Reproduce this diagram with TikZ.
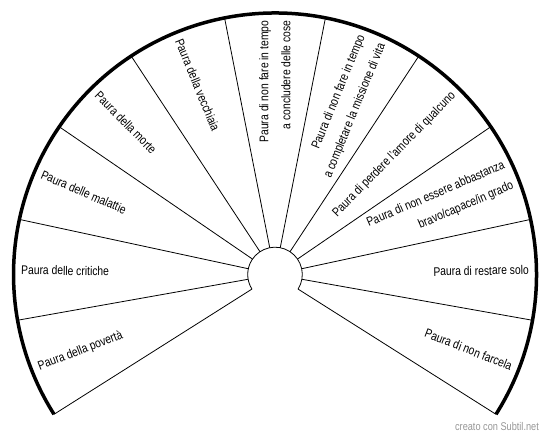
\documentclass[tikz,border=0pt]{standalone}
\usepackage{fontspec}
\setmainfont{Liberation Sans}
\usetikzlibrary{calc}
\definecolor{wmgray}{RGB}{150,150,150}
\begin{document}
\begin{tikzpicture}[x=1pt,y=1pt,
  spoke/.style={line width=0.8pt,black},
  rim/.style={line width=3.5pt,line cap=butt,black},
  lab/.style={inner sep=0pt,font=\fontsize{12.6}{22}\selectfont},
  rl/.style={lab,anchor=east,align=right,rotate=#1,xscale=0.82,transform shape},
  ll/.style={lab,anchor=west,align=left,rotate=#1,xscale=0.82,transform shape},
  wmark/.style={anchor=base east,inner sep=0pt,font=\fontsize{11.2}{13}\selectfont,text=wmgray,xscale=0.82,transform shape}]
\useasboundingbox (0,0) rectangle (550,438);
\coordinate (C) at (275,163.5);
\def\Ro{261.5}
\def\Ri{27.3}
\def\St{22.24}
\def\Az{-32.32}
\def\Rt{254}
% rims
\draw[rim] ($(C)+(\Az:\Ro)$) arc[start angle=\Az, end angle=212.32, radius=\Ro];
\draw[spoke] ($(C)+(\Az:\Ri)$) arc[start angle=\Az, end angle=212.32, radius=\Ri];
% spokes
\foreach \k in {0,...,11}{
  \pgfmathsetmacro\a{\Az+\k*\St}
  \draw[spoke] ($(C)+(\a:\Ri)$) -- ($(C)+(\a:\Ro)$);
}
% labels, right half
\node[rl=-21.2] (l0) at ($(C)+(-21.2:\Rt)$) {\strut Paura di non farcela};
\node[rl=1.04] (l1) at ($(C)+(1.04:\Rt)$) {\strut Paura di restare solo};
\node[rl=23.28] (l2) at ($(C)+(23.28:\Rt)$) {\strut Paura di non essere abbastanza\\\strut bravo/capace/in grado};
\node[rl=45.52] (l3) at ($(C)+(45.52:\Rt)$) {\strut Paura di perdere l'amore di qualcuno};
\node[rl=67.76] (l4) at ($(C)+(67.76:\Rt)$) {\strut Paura di non fare in tempo\\\strut a completare la missione di vita};
\node[rl=90] (l5) at ($(C)+(90:\Rt)$) {\strut Paura di non fare in tempo\\\strut a concludere delle cose};
% labels, left half
\node[ll=-67.76] (l6) at ($(C)+(112.24:\Rt)$) {\strut Paura della vecchiaia};
\node[ll=-45.52] (l7) at ($(C)+(134.48:\Rt)$) {\strut Paura della morte};
\node[ll=-23.28] (l8) at ($(C)+(156.72:\Rt)$) {\strut Paura delle malattie};
\node[ll=-1.04] (l9) at ($(C)+(178.96:\Rt)$) {\strut Paura delle critiche};
\node[ll=21.2] (l10) at ($(C)+(201.2:\Rt)$) {\strut Paura della povertà};
% watermark
\node[wmark] (wm) at (539,7) {creato con Subtil.net};
\end{tikzpicture}
\end{document}
